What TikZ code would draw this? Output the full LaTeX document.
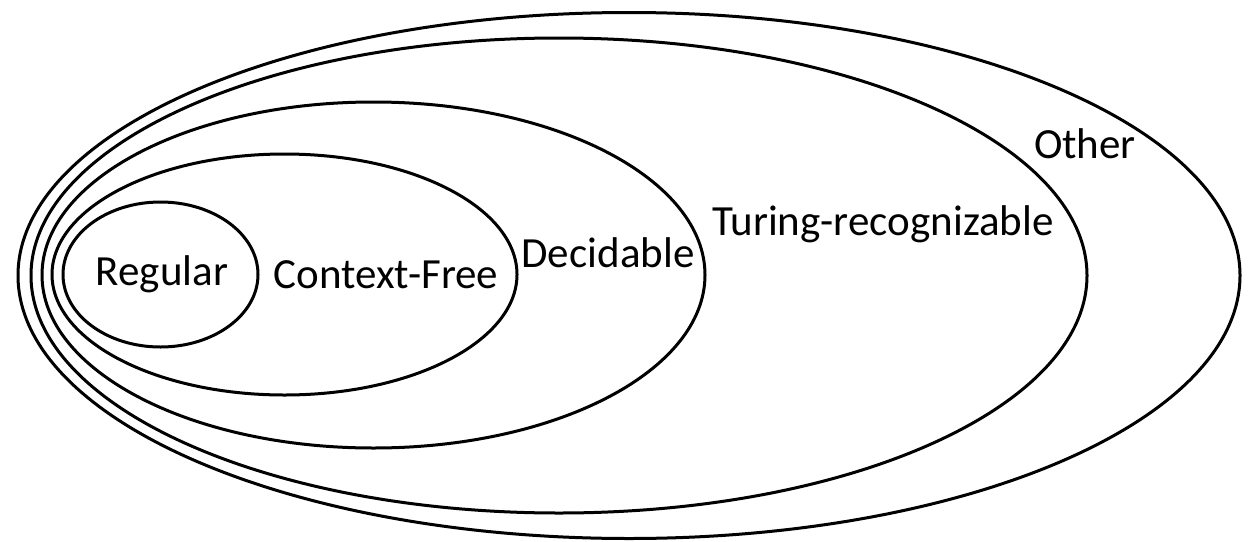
\documentclass[tikz,border=0pt]{standalone}
\usepackage{fontspec}
\setmainfont{Carlito}
\begin{document}
\begin{tikzpicture}[x=1pt,y=-1pt,
  setline/.style={line width=3pt,black},
  lbl/.style={anchor=base,inner sep=0pt,font=\fontsize{43}{50}\selectfont}]
\useasboundingbox (0,0) rectangle (1258,541);
\draw[setline] (629,275.5) ellipse [x radius=611pt, y radius=263pt];
\draw[setline] (559,275.5) ellipse [x radius=528pt, y radius=237.5pt];
\draw[setline] (373.5,275) ellipse [x radius=331.5pt, y radius=173pt];
\draw[setline] (284.5,274.5) ellipse [x radius=232.5pt, y radius=120.5pt];
\draw[setline] (160.5,274.5) ellipse [x radius=97.5pt, y radius=72.5pt];
\node[lbl] (regular) at (162,285) {Regular};
\node[lbl] (cf) at (386,288) {Context-Free};
\node[lbl] (dec) at (608,267) {Decidable};
\node[lbl] (tr) at (883,235) {Turing-recognizable};
\node[lbl] (other) at (1085,158) {Other};
\end{tikzpicture}
\end{document}
